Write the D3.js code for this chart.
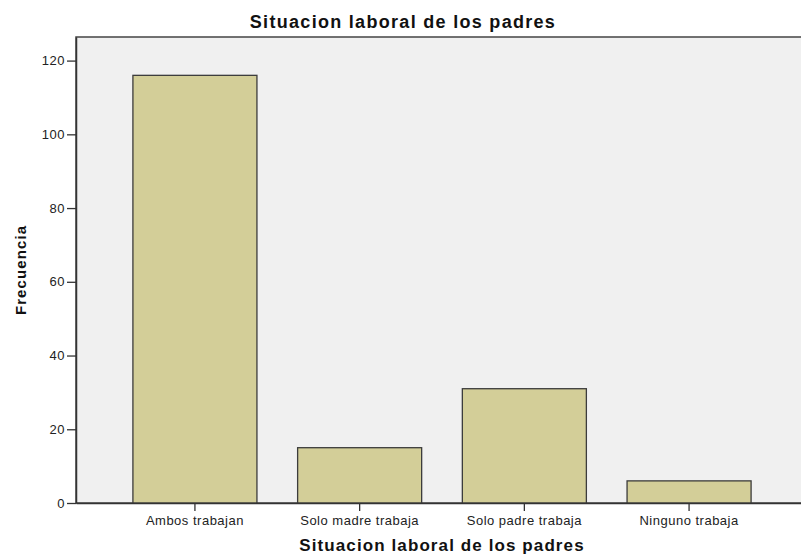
<!DOCTYPE html>
<html><head><meta charset="utf-8">
<script src="https://cdn.jsdelivr.net/npm/d3@7"></script>
<style>body{margin:0;background:#fff}svg{display:block}</style>
</head><body>
<svg id="c" width="801" height="556"></svg>
<script>
const categories = ["Ambos trabajan", "Solo madre trabaja", "Solo padre trabaja", "Ninguno trabaja"];
const values = [116, 15, 31, 6];
const yTicks = [0, 20, 40, 60, 80, 100, 120];
const chartTitle = "Situacion laboral de los padres";
const xTitle = "Situacion laboral de los padres";
const yTitle = "Frecuencia";

const svg = d3.select("#c");
const L = 76, R = 808, T = 37, B = 503;
const font = "'Liberation Sans', Arial, sans-serif";

const x = d3.scaleBand().domain(categories).range([L, R]).paddingInner(0.247).paddingOuter(0.3455);
const y = d3.scaleLinear().domain([0, 126.4]).range([B, T]);

svg.append("rect").attr("x", L).attr("y", T).attr("width", R - L).attr("height", B - T)
  .attr("fill", "#f0f0f0").attr("stroke", "#444").attr("stroke-width", 1.5);

svg.selectAll("rect.bar").data(values).enter().append("rect").attr("class", "bar")
  .attr("x", (d, i) => x(categories[i]))
  .attr("y", d => y(d))
  .attr("width", x.bandwidth())
  .attr("height", d => B - y(d))
  .attr("fill", "#d3ce98").attr("stroke", "#3c3c3c").attr("stroke-width", 1.3);

const ya = svg.append("g").attr("transform", `translate(${L},0)`)
  .call(d3.axisLeft(y).tickValues(yTicks).tickSize(9).tickPadding(2).tickSizeOuter(0));
ya.select(".domain").attr("stroke", "#333").attr("stroke-width", 1.5);
ya.selectAll(".tick line").attr("stroke", "#333").attr("stroke-width", 1.3);
ya.selectAll("text").attr("font-family", font).attr("font-size", 13).attr("letter-spacing", 0.5).attr("fill", "#222");

const xa = svg.append("g").attr("transform", `translate(0,${B})`)
  .call(d3.axisBottom(x).tickSize(8).tickPadding(5).tickSizeOuter(0));
xa.select(".domain").attr("stroke", "#333").attr("stroke-width", 1.5);
xa.selectAll(".tick line").attr("stroke", "#333").attr("stroke-width", 1.3);
xa.selectAll("text").attr("font-family", font).attr("font-size", 13).attr("letter-spacing", 0.5).attr("fill", "#222");

svg.append("text").attr("x", 403).attr("y", 28).attr("text-anchor", "middle")
  .attr("font-family", font).attr("font-weight", "bold").attr("font-size", 18).attr("fill", "#111")
  .attr("letter-spacing", 1.3).text(chartTitle);
svg.append("text").attr("x", (L + R) / 2).attr("y", 551).attr("text-anchor", "middle")
  .attr("font-family", font).attr("font-weight", "bold").attr("font-size", 17).attr("fill", "#111")
  .attr("letter-spacing", 1.1).text(xTitle);
svg.append("text").attr("transform", "translate(26,270) rotate(-90)").attr("text-anchor", "middle")
  .attr("font-family", font).attr("font-weight", "bold").attr("font-size", 15).attr("fill", "#111")
  .attr("letter-spacing", 1.1).text(yTitle);
</script>
</body></html>
